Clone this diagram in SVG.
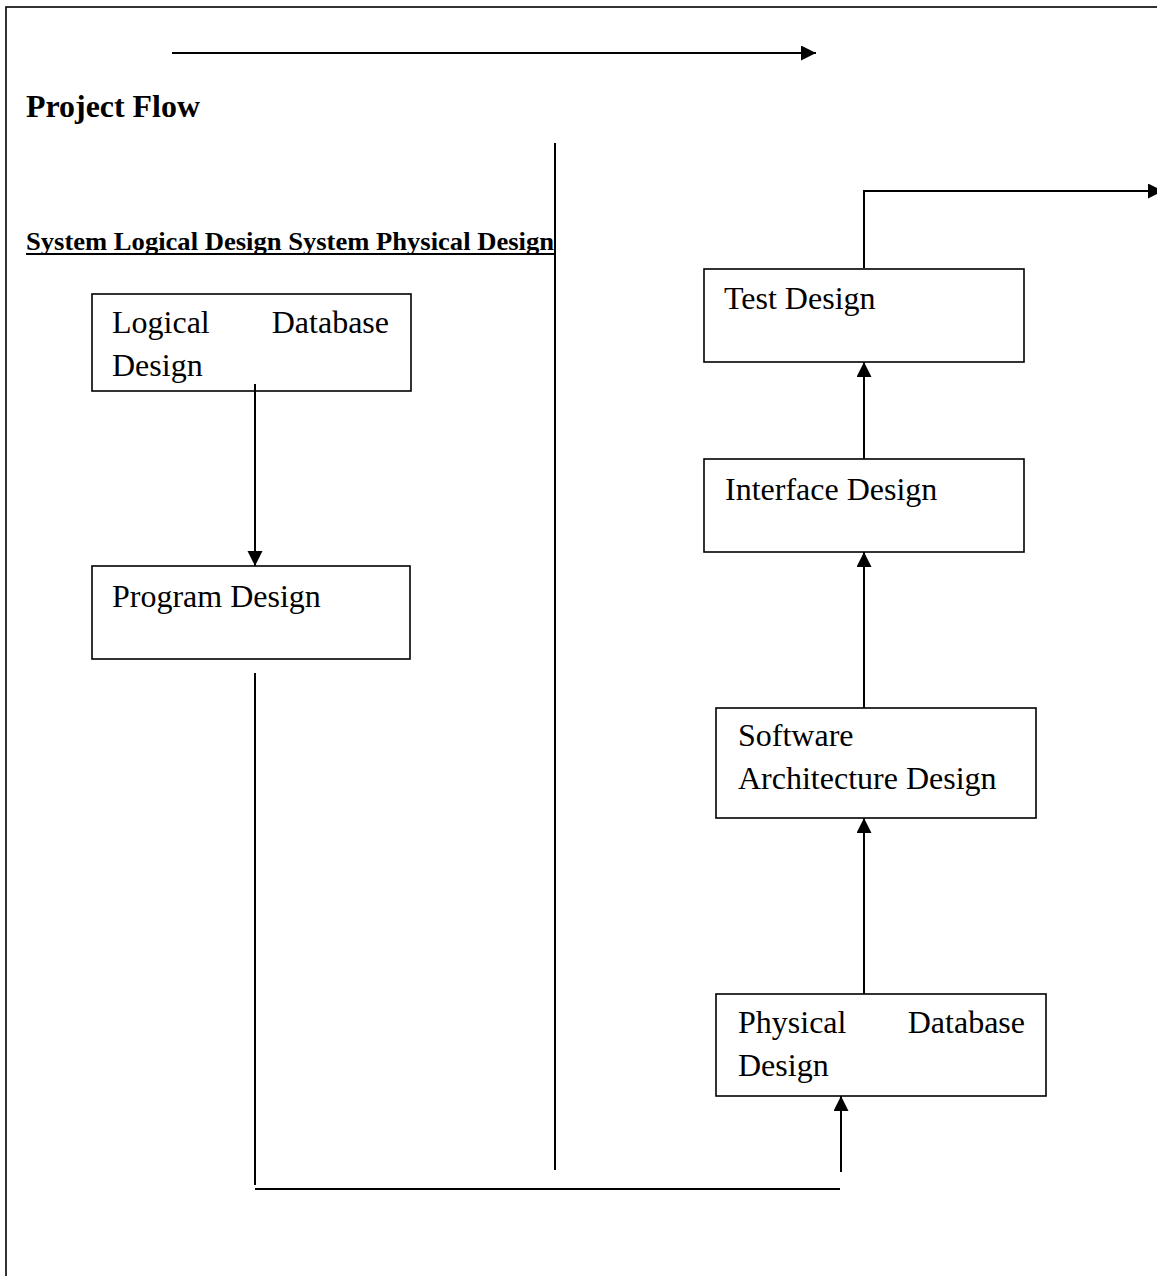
<svg xmlns="http://www.w3.org/2000/svg" width="1157" height="1276" viewBox="0 0 1157 1276">
  <defs>
    <marker id="arrow" markerUnits="userSpaceOnUse" markerWidth="16" markerHeight="16" refX="15" refY="7.5" orient="auto">
      <path d="M0,0 L15,7.5 L0,15 Z" fill="#000"/>
    </marker>
    <style>
      .box { fill: none; stroke: #000; stroke-width: 1.6; }
      .lbl { font-family: "Liberation Serif", "Times New Roman", serif; font-size: 32px; fill: #000; }
      .head { font-family: "Liberation Serif", "Times New Roman", serif; font-weight: bold; fill: #000; }
      .wire { fill: none; stroke: #000; stroke-width: 2; }
      .arr { fill: none; stroke: #000; stroke-width: 2; marker-end: url(#arrow); }
    </style>
  </defs>

  <rect width="1157" height="1276" fill="#fff"/>

  <!-- page frame -->
  <rect x="6" y="7" width="1200" height="1320" fill="none" stroke="#000" stroke-width="1.6"/>

  <!-- title and headings -->
  <text class="head" x="26" y="117" font-size="32" textLength="174" lengthAdjust="spacingAndGlyphs">Project Flow</text>
  <text class="head" x="26" y="250" font-size="26" textLength="528" lengthAdjust="spacingAndGlyphs">System Logical Design System Physical Design</text>
  <line x1="26" y1="254" x2="555" y2="254" stroke="#000" stroke-width="2"/>

  <!-- system logical design -->
  <g id="logical-database-design">
    <rect class="box" x="92" y="294" width="319" height="97"/>
    <text class="lbl" x="112" y="333">Logical</text>
    <text class="lbl" x="389" y="333" text-anchor="end">Database</text>
    <text class="lbl" x="112" y="376">Design</text>
  </g>

  <g id="program-design">
    <rect class="box" x="92" y="566" width="318" height="93"/>
    <text class="lbl" x="112" y="607">Program Design</text>
  </g>

  <!-- system physical design -->
  <g id="test-design">
    <rect class="box" x="704" y="269" width="320" height="93"/>
    <text class="lbl" x="724" y="309">Test Design</text>
  </g>

  <g id="interface-design">
    <rect class="box" x="704" y="459" width="320" height="93"/>
    <text class="lbl" x="725" y="500">Interface Design</text>
  </g>

  <g id="software-architecture-design">
    <rect class="box" x="716" y="708" width="320" height="110"/>
    <text class="lbl" x="738" y="746">Software</text>
    <text class="lbl" x="738" y="789">Architecture Design</text>
  </g>

  <g id="physical-database-design">
    <rect class="box" x="716" y="994" width="330" height="102"/>
    <text class="lbl" x="738" y="1033">Physical</text>
    <text class="lbl" x="1025" y="1033" text-anchor="end">Database</text>
    <text class="lbl" x="738" y="1076">Design</text>
  </g>

  <!-- connectors -->
  <g id="connectors">
    <line class="arr" x1="172" y1="53" x2="816" y2="53"/>
    <line class="wire" x1="555" y1="143" x2="555" y2="1170"/>
    <line class="arr" x1="255" y1="384" x2="255" y2="566"/>
    <line class="wire" x1="255" y1="673" x2="255" y2="1185"/>
    <line class="wire" x1="255" y1="1189" x2="840" y2="1189"/>
    <line class="arr" x1="841" y1="1172" x2="841" y2="1096"/>
    <line class="arr" x1="864" y1="994" x2="864" y2="818"/>
    <line class="arr" x1="864" y1="708" x2="864" y2="552"/>
    <line class="arr" x1="864" y1="459" x2="864" y2="362"/>
    <path class="arr" d="M864,268 V191 H1163"/>
  </g>
</svg>
